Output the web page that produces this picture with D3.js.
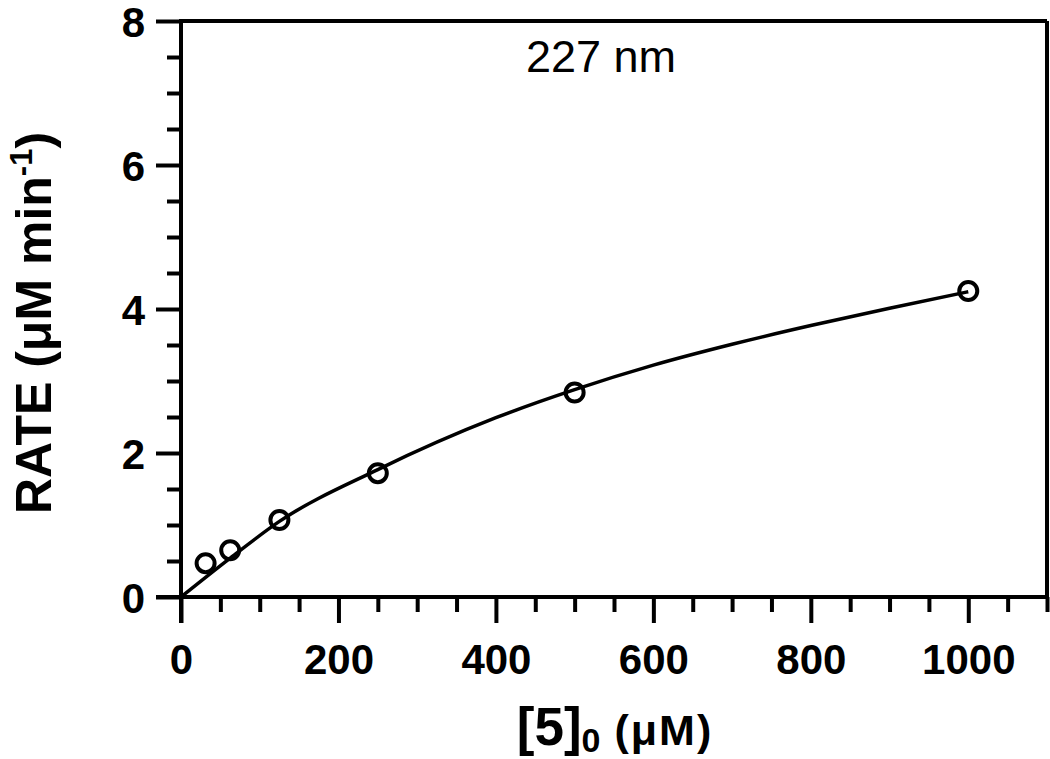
<!DOCTYPE html>
<html lang="en">
<head>
  <meta charset="UTF-8">
  <title>RATE vs [5]0</title>
  <script src="https://cdn.jsdelivr.net/npm/d3@7"></script>
  <style>
    body { margin: 0; background: #fff; }
    svg { display: block; }
    .axis path, .axis line { stroke: #000; stroke-width: 4px; }
    .axis text { font: bold 42px "Liberation Sans", Arial, sans-serif; fill: #000; }
    .fit { fill: none; stroke: #000; stroke-width: 3.5px; }
    .pt { fill: none; stroke: #000; stroke-width: 4px; }
    .title { font-family: "Liberation Sans", Arial, sans-serif; font-weight: bold; fill: #000; }
  </style>
</head>
<body>
  <svg width="1050" height="759"></svg>
  <script>
    // measured points: [5]0 (uM) and rate (uM/min)
    const conc = [31.25, 62.5, 125, 250, 500, 1000];
    const rate = [0.47, 0.65, 1.07, 1.72, 2.84, 4.25];

    // fitted curve
    const fitX = [0, 62.5, 125, 250, 400, 500, 600, 700, 800, 900, 1000];
    const fitY = [0, 0.54, 1.05, 1.77, 2.49, 2.88, 3.22, 3.51, 3.77, 4.01, 4.24];

    const xMajor = [0, 200, 400, 600, 800, 1000];
    const yMajor = [0, 2, 4, 6, 8];

    const svg = d3.select("svg");
    const x = d3.scaleLinear().domain([0, 1100]).range([181, 1047]);
    const y = d3.scaleLinear().domain([0, 8]).range([597, 21]);

    // frame (top + right)
    svg.append("line").attr("x1", x(0)).attr("x2", x(1100)).attr("y1", y(8)).attr("y2", y(8))
      .attr("stroke", "#000").attr("stroke-width", 4);
    svg.append("line").attr("x1", x(1100)).attr("x2", x(1100)).attr("y1", y(8)).attr("y2", y(0))
      .attr("stroke", "#000").attr("stroke-width", 4);

    // minor ticks
    const xMinor = d3.range(0, 1101, 50).filter(v => !xMajor.includes(v));
    const yMinor = d3.range(0, 8.01, 0.5).filter(v => !yMajor.includes(v));

    svg.append("g").attr("class", "axis")
      .attr("transform", `translate(0,${y(0)})`)
      .call(d3.axisBottom(x).tickValues(xMinor).tickSize(15).tickFormat(""))
      .call(g => g.select(".domain").remove());
    svg.append("g").attr("class", "axis")
      .attr("transform", `translate(${x(0)},0)`)
      .call(d3.axisLeft(y).tickValues(yMinor).tickSize(14).tickFormat(""))
      .call(g => g.select(".domain").remove());

    // major axes
    const xAxis = svg.append("g").attr("class", "axis")
      .attr("transform", `translate(0,${y(0)})`)
      .call(d3.axisBottom(x).tickValues(xMajor).tickFormat(d3.format("d"))
        .tickSize(26).tickSizeOuter(0).tickPadding(21));
    xAxis.select(".domain").attr("d", `M${x(0) - 25},0H${x(1100) + 2}`);

    const yAxis = svg.append("g").attr("class", "axis")
      .attr("transform", `translate(${x(0)},0)`)
      .call(d3.axisLeft(y).tickValues(yMajor).tickSize(25).tickSizeOuter(0).tickPadding(11));
    yAxis.select(".domain").attr("d", `M0,${y(0) + 26}V${y(8) - 2}`);
    yAxis.selectAll("text").attr("dy", "0.36em");

    // fit curve
    const line = d3.line()
      .x((d, i) => x(fitX[i]))
      .y((d, i) => y(fitY[i]))
      .curve(d3.curveMonotoneX);
    svg.append("path").attr("class", "fit").attr("d", line(fitX));

    // data points
    svg.selectAll(".pt").data(conc).enter().append("circle")
      .attr("class", "pt")
      .attr("cx", d => x(d))
      .attr("cy", (d, i) => y(rate[i]))
      .attr("r", 9);

    // annotation
    svg.append("text").attr("x", 601).attr("y", 72).attr("text-anchor", "middle")
      .style("font", "45px 'Liberation Sans', Arial, sans-serif")
      .text("227 nm");

    // x title
    const xt = svg.append("text").attr("class", "title")
      .attr("x", 615).attr("y", 745).attr("text-anchor", "middle");
    xt.append("tspan").style("font-size", "53px").text("[5]");
    xt.append("tspan").style("font-size", "34px").attr("dy", 7).text("0");
    xt.append("tspan").style("font-size", "43px").style("letter-spacing", "2px")
      .attr("dy", -7).text(" (\u03bcM)");

    // y title
    const yt = svg.append("text").attr("class", "title")
      .attr("transform", "translate(51,323) rotate(-90)")
      .attr("text-anchor", "middle")
      .style("font-size", "50px");
    yt.append("tspan").text("RATE (\u03bcM min");
    yt.append("tspan").attr("dy", -19).style("font-size", "31px").text("-1");
    yt.append("tspan").attr("dy", 19).text(")");
  </script>
</body>
</html>
